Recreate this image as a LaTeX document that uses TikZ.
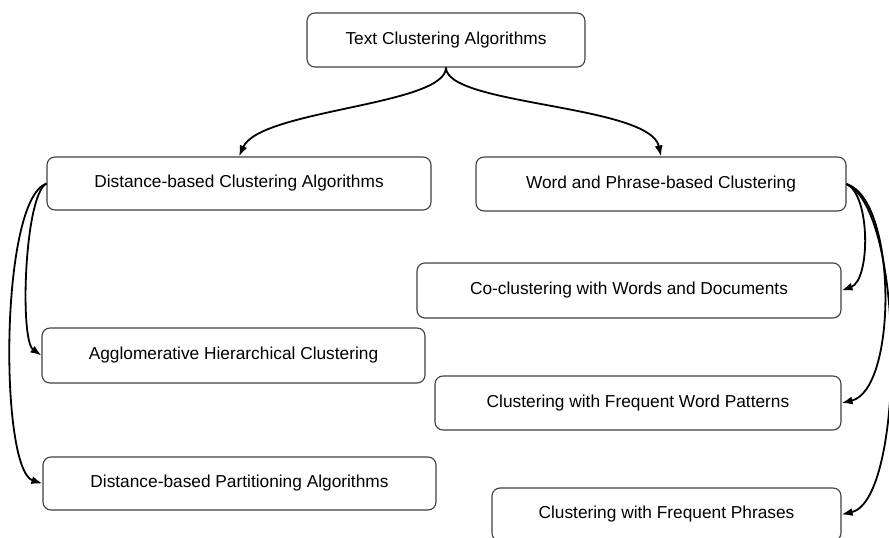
\documentclass[tikz,border=0pt]{standalone}
\usepackage{fontspec}
\setmainfont{Liberation Sans}
\usetikzlibrary{arrows.meta}
\begin{document}
\begin{tikzpicture}[x=1pt,y=-1pt,
  box/.style={draw=black!75, line width=1.1pt, rounded corners=8pt, fill=white,
    inner sep=0pt, font=\fontsize{17.3}{20}\selectfont},
  link/.style={draw=black, line width=1.8pt, -{Latex[length=11pt,width=8pt]}}]
  \useasboundingbox (0,0) rectangle (889,538);
  % boxes
  \node[box, minimum width=278pt, minimum height=54pt] (root) at (446,40) {Text Clustering Algorithms};
  \node[box, minimum width=384pt, minimum height=53pt] (dist) at (239,183.5) {Distance-based Clustering Algorithms};
  \node[box, minimum width=370pt, minimum height=54pt] (word) at (661,184) {Word and Phrase-based Clustering};
  \node[box, minimum width=383pt, minimum height=55pt] (agg) at (233.5,355.5) {Agglomerative Hierarchical Clustering};
  \node[box, minimum width=393pt, minimum height=53pt] (part) at (239.5,483.5) {Distance-based Partitioning Algorithms};
  \node[box, minimum width=424pt, minimum height=55pt] (co) at (629,290.5) {Co-clustering with Words and Documents};
  \node[box, minimum width=406pt, minimum height=54pt] (pat) at (638,403) {Clustering with Frequent Word Patterns};
  \node[box, minimum width=349pt, minimum height=53pt] (phr) at (666.5,514.5) {Clustering with Frequent Phrases};
  % connectors
  \draw[link] (root.south) .. controls +(0,38) and +(21,-47) .. (dist.north);
  \draw[link] (root.south) .. controls +(0,38) and +(-11,-52) .. (word.north);
  \draw[link] (dist.west) .. controls +(-22,11.5) and +(-22,-15.5) .. (agg.west);
  \draw[link] (dist.west) .. controls +(-47,16.5) and +(-43,-13.5) .. (part.west);
  \draw[link] (word.east) .. controls +(24,11) and +(29,-10.5) .. (co.east);
  \draw[link] (word.east) .. controls +(51,16) and +(56,-13) .. (pat.east);
  \draw[link] (word.east) .. controls +(59,26) and +(64,-14.5) .. (phr.east);
\end{tikzpicture}
\end{document}
